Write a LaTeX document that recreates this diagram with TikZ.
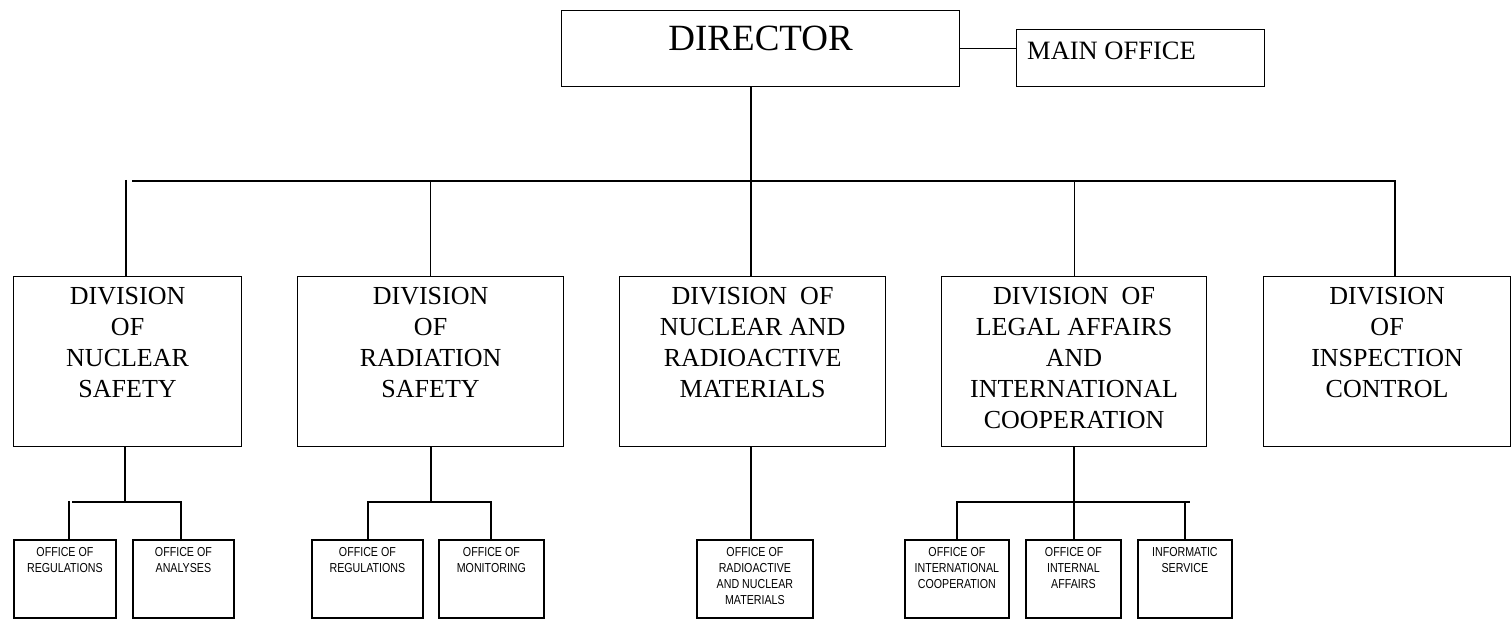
\documentclass[tikz,border=0pt]{standalone}
\usepackage{fontspec}
\setmainfont{Liberation Serif}
\newfontfamily\narrowsans[FakeStretch=0.82]{Liberation Sans}
\begin{document}
\begin{tikzpicture}[x=1pt,y=-1pt,
  mainbox/.style={draw, line width=1.2pt, inner sep=0pt, anchor=north west},
  offbox/.style={draw, line width=1.8pt, inner sep=0pt, anchor=north west, minimum height=78pt},
  mainline/.style={line width=1.2pt},
  offline/.style={line width=1.8pt},
  divtext/.style={inner sep=0pt, anchor=north, align=center, font=\fontsize{26}{31}\selectfont},
  offtext/.style={inner sep=0pt, anchor=north, align=center, font=\narrowsans\fontsize{13}{16}\selectfont}
]
\useasboundingbox (0,0) rectangle (1512,620);

% Director and main office
\node[mainbox, minimum width=398pt, minimum height=76pt] (dir) at (561,10) {};
\node[inner sep=0pt, anchor=north, font=\fontsize{37}{40}\selectfont] (tdir) at ([yshift=-16pt]dir.north) {DIRECTOR};
\node[mainbox, minimum width=248pt, minimum height=57pt] (mo) at (1016,29) {};
\node[inner sep=0pt, anchor=north west, font=\fontsize{26.5}{30}\selectfont] (tmo) at ([xshift=11pt,yshift=-13pt]mo.north west) {MAIN OFFICE};
\draw[mainline] (dir.east) -- (dir.east -| mo.west);

% Divisions
\node[mainbox, minimum width=228pt, minimum height=170pt] (d1) at (13,276) {};
\node[mainbox, minimum width=266pt, minimum height=170pt] (d2) at (297,276) {};
\node[mainbox, minimum width=266pt, minimum height=170pt] (d3) at (619,276) {};
\node[mainbox, minimum width=265pt, minimum height=170pt] (d4) at (941,276) {};
\node[mainbox, minimum width=247pt, minimum height=170pt] (d5) at (1263,276) {};

\node[divtext] (t1) at ([yshift=-11pt]d1.north) {DIVISION\\OF\\NUCLEAR\\SAFETY};
\node[divtext] (t2) at ([yshift=-11pt]d2.north) {DIVISION\\OF\\RADIATION\\SAFETY};
\node[divtext] (t3) at ([yshift=-11pt]d3.north) {DIVISION\ \ OF\\NUCLEAR AND\\RADIOACTIVE\\MATERIALS};
\node[divtext] (t4) at ([yshift=-11pt]d4.north) {DIVISION\ \ OF\\LEGAL AFFAIRS\\AND\\INTERNATIONAL\\COOPERATION};
\node[divtext] (t5) at ([yshift=-11pt]d5.north) {DIVISION\\OF\\INSPECTION\\CONTROL};

% top bus
\coordinate (busL) at (132,181);
\coordinate (busR) at (1395,181);
\coordinate (v1) at (126,180);
\coordinate (v3) at (751,181);
\draw[mainline] (busL) -- (busR) -- (busR |- d5.north);
\draw[mainline] (v1) -- (v1 |- d1.north);
\draw[mainline] (d2.north |- busL) -- (d2.north);
\draw[mainline] (v3 |- dir.south) -- (v3 |- d3.north);
\draw[mainline] (d4.north |- busL) -- (d4.north);

% Offices
\node[offbox, minimum width=102pt] (oa) at (13,539) {};
\node[offbox, minimum width=101pt] (ob) at (132,539) {};
\node[offbox, minimum width=111pt] (oc) at (311,539) {};
\node[offbox, minimum width=105pt] (od) at (438,539) {};
\node[offbox, minimum width=116pt] (oe) at (696,539) {};
\node[offbox, minimum width=104pt] (of) at (904,539) {};
\node[offbox, minimum width=95pt] (og) at (1025,539) {};
\node[offbox, minimum width=94pt] (oh) at (1137,539) {};

\node[offtext] (ta) at ([yshift=-8pt]oa.north) {OFFICE OF\\REGULATIONS};
\node[offtext] (tb) at ([yshift=-8pt]ob.north) {OFFICE OF\\ANALYSES};
\node[offtext] (tc) at ([yshift=-8pt]oc.north) {OFFICE OF\\REGULATIONS};
\node[offtext] (td) at ([yshift=-8pt]od.north) {OFFICE OF\\MONITORING};
\node[offtext] (te) at ([yshift=-8pt]oe.north) {OFFICE OF\\RADIOACTIVE\\AND NUCLEAR\\MATERIALS};
\node[offtext] (tf) at ([yshift=-8pt]of.north) {OFFICE OF\\INTERNATIONAL\\COOPERATION};
\node[offtext] (tg) at ([yshift=-8pt]og.north) {OFFICE OF\\INTERNAL\\AFFAIRS};
\node[offtext] (th) at ([yshift=-8pt]oh.north) {INFORMATIC\\SERVICE};

% Division 1 sub-tree
\coordinate (j1) at (125,502);
\coordinate (j1a) at (72,502);
\coordinate (j1b) at (181,502);
\coordinate (k1a) at (69,501);
\draw[offline] (d1.south -| j1) -- (j1);
\draw[offline] (j1a) -- (j1b) -- (j1b |- ob.north);
\draw[offline] (k1a) -- (k1a |- oa.north);

% Division 2 sub-tree
\coordinate (j2) at (431,502);
\coordinate (j2a) at (368,502);
\coordinate (j2b) at (491,502);
\draw[offline] (d2.south -| j2) -- (j2);
\draw[offline] (j2a |- oc.north) -- (j2a) -- (j2b) -- (j2b |- od.north);

% Division 3 sub-tree
\coordinate (j3) at (751,446);
\draw[offline] (j3) -- (j3 |- oe.north);

% Division 4 sub-tree
\coordinate (j4) at (1074,446);
\coordinate (j4a) at (957,502);
\coordinate (j4b) at (1190,502);
\coordinate (k4b) at (1185,502);
\draw[offline] (j4) -- (j4 |- og.north);
\draw[offline] (j4a |- of.north) -- (j4a) -- (j4b);
\draw[offline] (k4b) -- (k4b |- oh.north);
\end{tikzpicture}
\end{document}
